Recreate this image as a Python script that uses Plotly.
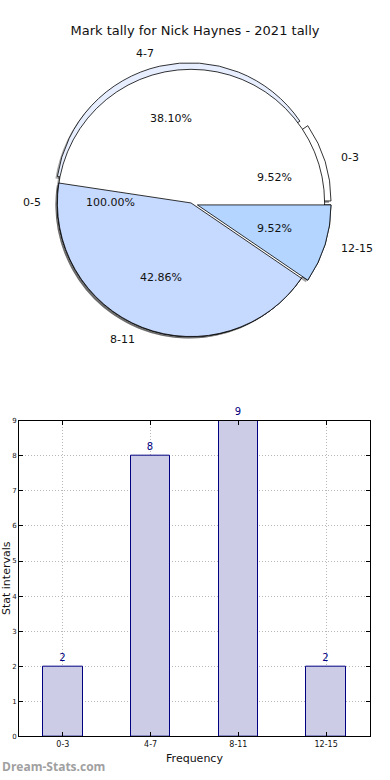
import math
import plotly.graph_objects as go

# ---- data ----
title = "Mark tally for Nick Haynes - 2021 tally"
categories = ["0-3", "4-7", "8-11", "12-15"]
counts = [2, 8, 9, 2]
pulls = [0.05, 0.05, 0.0, 0.05]
pie_colors = ["#ffffff", "#e6eeff", "#c6d9fe", "#b3d5ff"]
outer_labels = ["0-5"]
outer_values = [1]
y_ticks = list(range(0, 10))

W, H = 390, 780
CX, CY, R = 191.0, 201.0, 135.0  # pie centre / radius in px


def pie_domain(pull, dx=0.0, dy=0.0):
    half = R * (1 + pull)
    x0 = (CX + dx - half) / W
    x1 = (CX + dx + half) / W
    y0 = 1 - (CY + dy + half) / H
    y1 = 1 - (CY + dy - half) / H
    return dict(x=[x0, x1], y=[y0, y1])


# plotly: for counterclockwise pies the first slice ends at the rotation angle
first_span = 360.0 * counts[0] / sum(counts)
rot = 90.0 - first_span

maxpull = max(pulls)
fig = go.Figure()

common = dict(sort=False, direction="counterclockwise",
              textinfo="none", hoverinfo="label+percent", showlegend=False)

# shadows
fig.add_trace(go.Pie(labels=outer_labels, values=outer_values, rotation=90,
                     marker=dict(colors=["rgba(0,0,0,0.35)"], line=dict(width=0)),
                     domain=pie_domain(0, -2, 2), **common))
fig.add_trace(go.Pie(labels=categories, values=counts, pull=pulls, rotation=rot,
                     marker=dict(colors=["rgba(0,0,0,0.35)"] * 4, line=dict(width=0)),
                     domain=pie_domain(maxpull, -2, 2), **common))
# base wedges
fig.add_trace(go.Pie(labels=categories, values=counts, pull=pulls, rotation=rot,
                     marker=dict(colors=pie_colors, line=dict(color="black", width=0.8)),
                     domain=pie_domain(maxpull), **common))
# full white disc
fig.add_trace(go.Pie(labels=outer_labels, values=outer_values, rotation=90,
                     marker=dict(colors=["#ffffff"], line=dict(color="black", width=0.8)),
                     domain=pie_domain(0), **common))
# top wedges (only the lower two visible)
top_colors = ["rgba(0,0,0,0)", "rgba(0,0,0,0)", pie_colors[2], pie_colors[3]]
fig.add_trace(go.Pie(labels=categories, values=counts, pull=pulls, rotation=rot,
                     marker=dict(colors=top_colors,
                                 line=dict(color="black", width=[0, 0, 0.8, 0.8])),
                     domain=pie_domain(maxpull), **common))

annotations = []


def add_pie_texts(labels, values, pull_list):
    total = sum(values)
    start = 0.0
    for lab, v, p in zip(labels, values, pull_list):
        frac = v / total
        mid = math.radians((start + frac / 2) * 360)
        start += frac
        c, s = math.cos(mid), math.sin(mid)
        ax, ay = CX + p * R * c, CY - p * R * s
        px, py = ax + 0.6 * R * c, ay - 0.6 * R * s
        lx, ly = ax + 1.1 * R * c, ay - 1.1 * R * s
        annotations.append(dict(x=px / W, y=1 - py / H, xref="paper", yref="paper",
                                text=f"{frac * 100:.2f}%", showarrow=False,
                                xanchor="center", yanchor="middle",
                                font=dict(size=11, color="#111")))
        annotations.append(dict(x=lx / W, y=1 - ly / H, xref="paper", yref="paper",
                                text=lab, showarrow=False, yanchor="middle",
                                xanchor="left" if c > 1e-9 else ("right" if c < -1e-9 else "center"),
                                font=dict(size=11, color="#111")))


add_pie_texts(categories, counts, pulls)
add_pie_texts(outer_labels, outer_values, [0])

# ---- bar chart ----
fig.add_trace(go.Bar(x=categories, y=counts, width=0.45,
                     marker=dict(color="#ccccE6", line=dict(color="#000080", width=1)),
                     text=[str(c) for c in counts], textposition="outside",
                     textfont=dict(size=10, color="#000080"), cliponaxis=False,
                     showlegend=False, hoverinfo="x+y"))

fig.update_layout(
    width=W, height=H, margin=dict(l=0, r=0, t=0, b=0),
    paper_bgcolor="white", plot_bgcolor="white",
    font=dict(family="DejaVu Sans", color="#111"),
    title=dict(text=title, x=0.5, xanchor="center", y=1 - 30 / H, yanchor="middle",
               font=dict(size=13, color="#111")),
    xaxis=dict(domain=[19 / W, 370 / W], range=[-0.5, 3.5], showline=True,
               linecolor="black", linewidth=1, mirror="ticks", ticks="inside",
               ticklen=4, tickcolor="black", tickfont=dict(size=8),
               showgrid=True, gridcolor="#b8b8b8", griddash="1px,2px", gridwidth=1,
               title=dict(text="Frequency", font=dict(size=11), standoff=6),
               fixedrange=True),
    yaxis=dict(domain=[1 - 740 / H, 1 - 421 / H], range=[0, 9], tickvals=y_ticks,
               showline=True, linecolor="black", linewidth=1, mirror="ticks",
               ticks="inside", ticklen=4, tickcolor="black", tickfont=dict(size=7),
               showgrid=True, gridcolor="#b8b8b8", griddash="1px,2px", gridwidth=1,
               zeroline=False, fixedrange=True),
    bargap=0,
)

annotations.append(dict(x=6 / W, y=1 - 580 / H, xref="paper", yref="paper",
                        text="Stat intervals", textangle=-90, showarrow=False,
                        xanchor="center", yanchor="middle", font=dict(size=11, color="#111")))
annotations.append(dict(x=0 / W, y=1 - 770 / H, xref="paper", yref="paper",
                        text="<b>Dream-Stats.com</b>", showarrow=False,
                        xanchor="left", yanchor="middle",
                        font=dict(size=12, color="#a0a0a0", family="Open Sans")))
fig.update_layout(annotations=annotations)

fig.write_html("out.html", config={"displayModeBar": False},
               post_script="document.body.style.margin='0';document.body.style.overflow='hidden';")
